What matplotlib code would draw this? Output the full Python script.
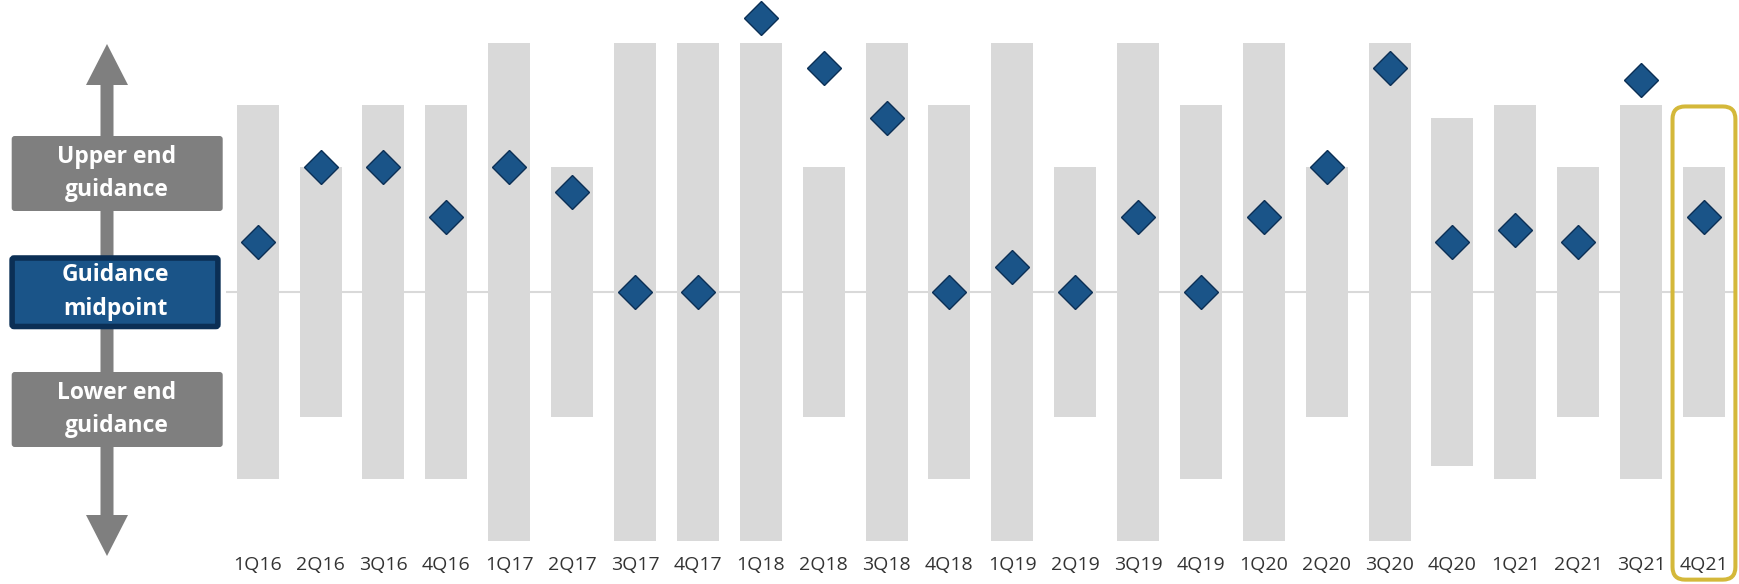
import matplotlib.pyplot as plt
import matplotlib.transforms as mtransforms
from matplotlib.patches import FancyBboxPatch, Polygon
import numpy as np

# quarters and guidance data (relative units, narrow range = +/-1)
quarters = ['1Q16', '2Q16', '3Q16', '4Q16', '1Q17', '2Q17', '3Q17', '4Q17',
            '1Q18', '2Q18', '3Q18', '4Q18', '1Q19', '2Q19', '3Q19', '4Q19',
            '1Q20', '2Q20', '3Q20', '4Q20', '1Q21', '2Q21', '3Q21', '4Q21']
guide_half = [1.5, 1.0, 1.5, 1.5, 2.0, 1.0, 2.0, 2.0,
              2.0, 1.0, 2.0, 1.5, 2.0, 1.0, 2.0, 1.5,
              2.0, 1.0, 2.0, 1.4, 1.5, 1.0, 1.5, 1.0]
actual_vs_mid = [0.4, 1.0, 1.0, 0.6, 1.0, 0.8, 0.0, 0.0,
                 2.2, 1.8, 1.4, 0.0, 0.2, 0.0, 0.6, 0.0,
                 0.6, 1.0, 1.8, 0.4, 0.5, 0.4, 1.7, 0.6]
highlight = '4Q21'

bar_grey = '#D9D9D9'
blue = '#1A5488'
navy = '#0B2F55'
box_grey = '#7F7F7F'
gold = '#D4B83A'

plt.rcParams['font.family'] = ['Open Sans', 'DejaVu Sans']

fig = plt.figure(figsize=(17.4, 5.84), dpi=100)

# main chart axes fills the whole figure
ax = fig.add_axes([0, 0, 1, 1])
ax.set_xlim(-4.098, 23.573)
ax.set_ylim(-2.345, 2.345)
ax.axis('off')

x = np.arange(len(quarters))
half = np.array(guide_half)

ax.hlines(0, -0.5, len(quarters) - 0.5, color=bar_grey, lw=1.5, zorder=1)
ax.bar(x, 2 * half, bottom=-half, width=0.668, color=bar_grey, zorder=2)
ax.plot(x, actual_vs_mid, ls='none', marker='D', markersize=17.3,
        mfc=blue, mec=navy, mew=1, zorder=4, clip_on=False)

# quarter labels under the bars
trans = mtransforms.blended_transform_factory(ax.transData, ax.transAxes)
for i, q in enumerate(quarters):
    ax.text(i, 0.033, q, transform=trans, ha='center', va='center',
            fontsize=14, color='#333333')

# highlight box around the latest quarter
hi = quarters.index(highlight)
hl = FancyBboxPatch((hi - 0.5, -2.31), 1.0, 2.31 + 1.49,
                    boxstyle='round,pad=0,rounding_size=0.2',
                    mutation_aspect=0.505, fill=False, ec=gold, lw=2.9,
                    zorder=5, clip_on=False)
ax.add_patch(hl)

# left-hand key drawn in pixel coordinates
side = fig.add_axes([0, 0, 1, 1])
side.set_xlim(0, 1740)
side.set_ylim(584, 0)
side.axis('off')
side.patch.set_alpha(0)

cx, top, bot = 107, 44, 556
hw, hl_len, sw = 21, 41, 6.5
arrow = Polygon([(cx, top), (cx + hw, top + hl_len), (cx + sw, top + hl_len),
                 (cx + sw, bot - hl_len), (cx + hw, bot - hl_len), (cx, bot),
                 (cx - hw, bot - hl_len), (cx - sw, bot - hl_len),
                 (cx - sw, top + hl_len), (cx - hw, top + hl_len)],
                closed=True, fc=box_grey, ec='none', zorder=1)
side.add_patch(arrow)

for (y0, y1), label in [((136, 211), 'Upper end\nguidance'),
                        ((372, 447), 'Lower end\nguidance')]:
    b = FancyBboxPatch((11.7, y0), 211, y1 - y0,
                       boxstyle='round,pad=0,rounding_size=3',
                       fc=box_grey, ec='none', zorder=2)
    side.add_patch(b)
    side.text(117, (y0 + y1) / 2, label, ha='center', va='center',
              color='white', fontsize=16.5, fontweight='bold', linespacing=1.55, zorder=3)

mid = FancyBboxPatch((12.1, 258), 205.8, 68.5,
                     boxstyle='round,pad=0,rounding_size=2',
                     fc=blue, ec=navy, lw=4, zorder=2)
side.add_patch(mid)
side.text(115, 292, 'Guidance\nmidpoint', ha='center', va='center',
          color='white', fontsize=16.5, fontweight='bold', linespacing=1.55, zorder=3)

fig.savefig('out.png', dpi=100)
